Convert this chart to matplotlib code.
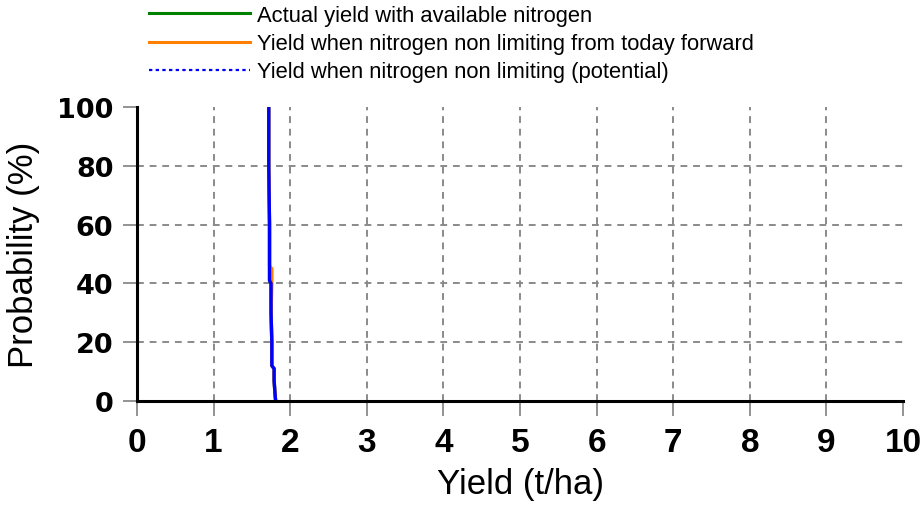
import numpy as np
import matplotlib.pyplot as plt
from matplotlib.lines import Line2D

# ---- cumulative probability curves
prob = [0, 3, 7, 11, 12, 20, 30, 40, 41, 60, 80, 100]
yield_actual = [1.81, 1.80, 1.79, 1.79, 1.76, 1.76, 1.75, 1.75, 1.73, 1.73, 1.72, 1.72]
yield_potential = [1.81, 1.80, 1.79, 1.79, 1.76, 1.76, 1.75, 1.75, 1.73, 1.73, 1.72, 1.72]

prob_forward = [0, 3, 7, 11, 12, 20, 30, 40, 45, 46, 60, 80, 100]
yield_forward = [1.81, 1.80, 1.79, 1.79, 1.76, 1.76, 1.75, 1.76, 1.76, 1.73, 1.73, 1.72, 1.72]

labels = ["Actual yield with available nitrogen",
          "Yield when nitrogen non limiting from today forward",
          "Yield when nitrogen non limiting (potential)"]
x_ticks = list(range(0, 11))
y_ticks = [0, 20, 40, 60, 80, 100]

plt.rcParams['font.family'] = ['Liberation Sans', 'DejaVu Sans']

fig = plt.figure(figsize=(9.21, 5.06), dpi=100)
ax = fig.add_axes([137 / 921, 1 - 402 / 506, 766 / 921, 294 / 506])

ax.plot(yield_actual, prob, color='#008000', lw=2.4)
ax.plot(yield_forward, prob_forward, color='#ff8000', lw=2.4)
ax.plot(yield_potential, prob, color='#0000ff', lw=2.4)

ax.set_xlim(0, 10)
ax.set_ylim(0, 100)
ax.set_xticks(x_ticks)
ax.set_yticks(y_ticks)
ax.tick_params(axis='x', length=11, width=1.2, color='#808080', pad=8)
ax.tick_params(axis='y', length=10, width=1.2, color='#808080', pad=7)
for lab in ax.get_xticklabels():
    lab.set_fontsize(24)
    lab.set_fontweight('bold')
for lab in ax.get_yticklabels():
    lab.set_family(['DejaVu Sans'])
    lab.set_fontsize(19.5)
    lab.set_fontweight('bold')

ax.grid(True, color='#8a8a8a', ls=(0, (3.5, 3)), lw=1.4)
# no grid at the plot edges
for gl in [ax.xaxis.get_gridlines()[0], ax.xaxis.get_gridlines()[-1],
           ax.yaxis.get_gridlines()[0], ax.yaxis.get_gridlines()[-1]]:
    gl.set_visible(False)

for side in ['top', 'right']:
    ax.spines[side].set_visible(False)
for side in ['left', 'bottom']:
    ax.spines[side].set_linewidth(2.2)
    ax.spines[side].set_color('black')

ax.set_xlabel("Yield (t/ha)", fontsize=25, labelpad=6)
ax.set_ylabel("Probability (%)", fontsize=25, labelpad=12)

handles = [Line2D([], [], color='#008000', lw=2.2),
           Line2D([], [], color='#ff8000', lw=2.2),
           Line2D([], [], color='#0000ff', lw=1.6, ls=(0, (1.5, 1.5)))]
fig.legend(handles, labels, loc='upper left', bbox_to_anchor=(149 / 921, 1 - 6 / 506),
           frameon=False, fontsize=15.8, handlelength=4.6, handletextpad=0.33,
           labelspacing=0.33, borderpad=0, borderaxespad=0)

fig.savefig("out.png", dpi=100)
